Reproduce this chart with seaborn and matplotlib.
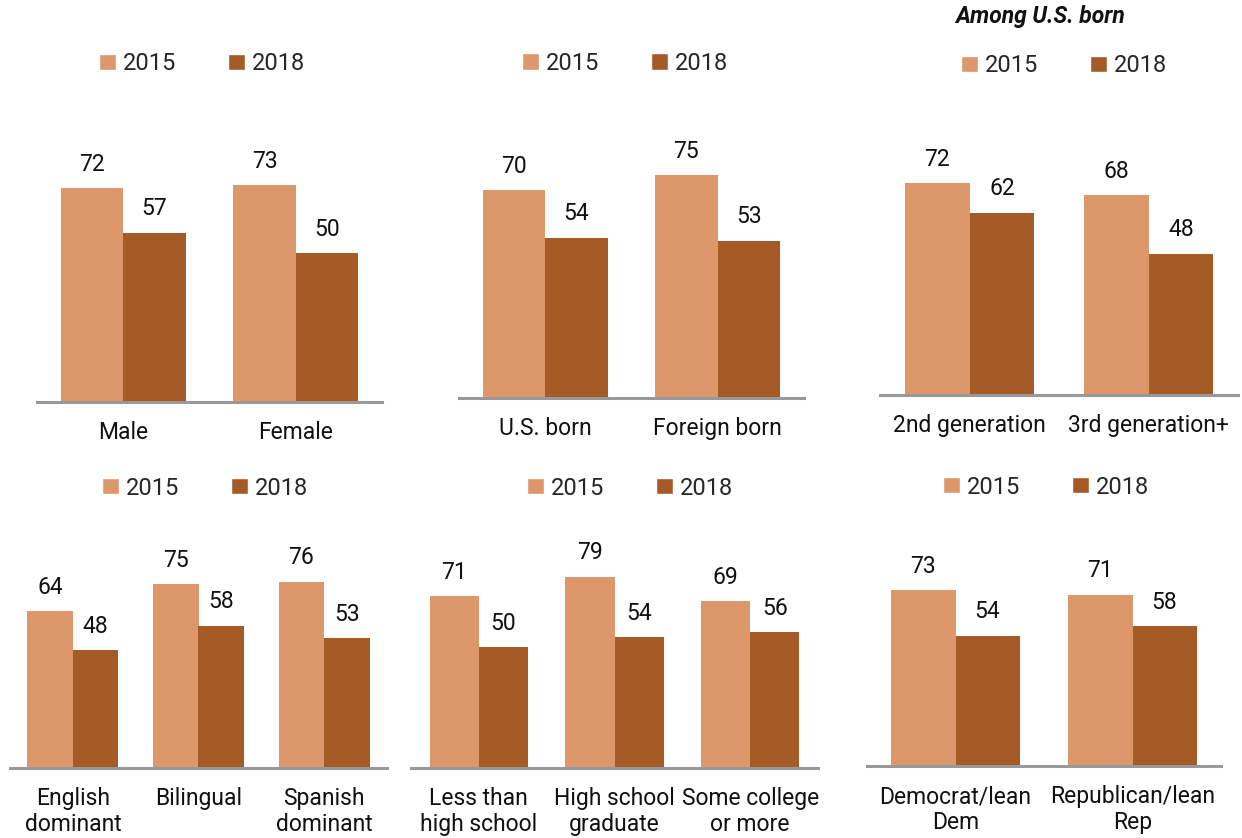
import pandas as pd
import matplotlib.pyplot as plt
import seaborn as sns
from matplotlib.patches import Patch

sns.set_style('white')
plt.rcParams['font.family'] = ['Roboto', 'DejaVu Sans']

years = ['2015', '2018']
colors = {'2015': '#DC976A', '2018': '#A65A26'}

gender = ['Male', 'Female']
gender_2015 = [72, 73]
gender_2018 = [57, 50]

nativity = ['U.S. born', 'Foreign born']
nativity_2015 = [70, 75]
nativity_2018 = [54, 53]

generation = ['2nd generation', '3rd generation+']
generation_2015 = [72, 68]
generation_2018 = [62, 48]

language = ['English\ndominant', 'Bilingual', 'Spanish\ndominant']
language_2015 = [64, 75, 76]
language_2018 = [48, 58, 53]

education = ['Less than\nhigh school', 'High school\ngraduate', 'Some college\nor more']
education_2015 = [71, 79, 69]
education_2018 = [50, 54, 56]

party = ['Democrat/lean\nDem', 'Republican/lean\nRep']
party_2015 = [73, 71]
party_2018 = [54, 58]

W, H = 1242, 838
fig = plt.figure(figsize=(W / 100, H / 100), dpi=100)

# (categories, 2015, 2018, left px, right px, baseline px, px per unit, legend center)
panels = [
    (gender, gender_2015, gender_2018, 37, 382, 402, 2.97, (202, 64)),
    (nativity, nativity_2015, nativity_2018, 459, 804, 398, 2.97, (625, 63)),
    (generation, generation_2015, generation_2018, 880, 1238, 395, 2.94, (1064, 66)),
    (language, language_2015, language_2018, 10, 387, 768, 2.45, (205, 488)),
    (education, education_2015, education_2018, 411, 818, 768, 2.42, (630, 488)),
    (party, party_2015, party_2018, 867, 1221, 766, 2.41, (1046, 487)),
]

for cats, v15, v18, left, right, base, ppu, leg in panels:
    df = pd.DataFrame({
        'group': cats * 2,
        'year': ['2015'] * len(cats) + ['2018'] * len(cats),
        'value': v15 + v18,
    })
    height = 100 * ppu
    ax = fig.add_axes([left / W, (H - base) / H, (right - left) / W, height / H])
    sns.barplot(data=df, x='group', y='value', hue='year', palette=colors,
                width=0.725, saturation=1, linewidth=0, ax=ax, legend=False)
    ax.set_xlim(-0.5, len(cats) - 0.5)
    ax.set_ylim(0, 100)
    for c in ax.containers:
        ax.bar_label(c, fmt='%d', padding=9, fontsize=16.5, color='#111111')
    sns.despine(ax=ax, left=True)
    ax.spines['bottom'].set_color('#999999')
    ax.spines['bottom'].set_linewidth(2.2)
    ax.set_yticks([])
    ax.set_xlabel('')
    ax.set_ylabel('')
    ax.tick_params(axis='x', length=0, pad=14, labelsize=16.5, labelcolor='#111111')
    for t in ax.get_xticklabels():
        t.set_linespacing(1.15)
        t.set_verticalalignment('top')
    handles = [Patch(facecolor=colors[y], label=y) for y in years]
    fig.legend(handles=handles, loc='center', ncol=2, frameon=False,
               bbox_to_anchor=(leg[0] / W, 1 - leg[1] / H),
               fontsize=17, handlelength=0.7, handleheight=0.7,
               handletextpad=0.3, columnspacing=2.2)

fig.text(1040 / W, 1 - 16 / H, 'Among U.S. born', ha='center', va='center',
         fontsize=16.5, fontweight='bold', fontstyle='italic', color='#111111')

fig.savefig('out.png', dpi=100)
